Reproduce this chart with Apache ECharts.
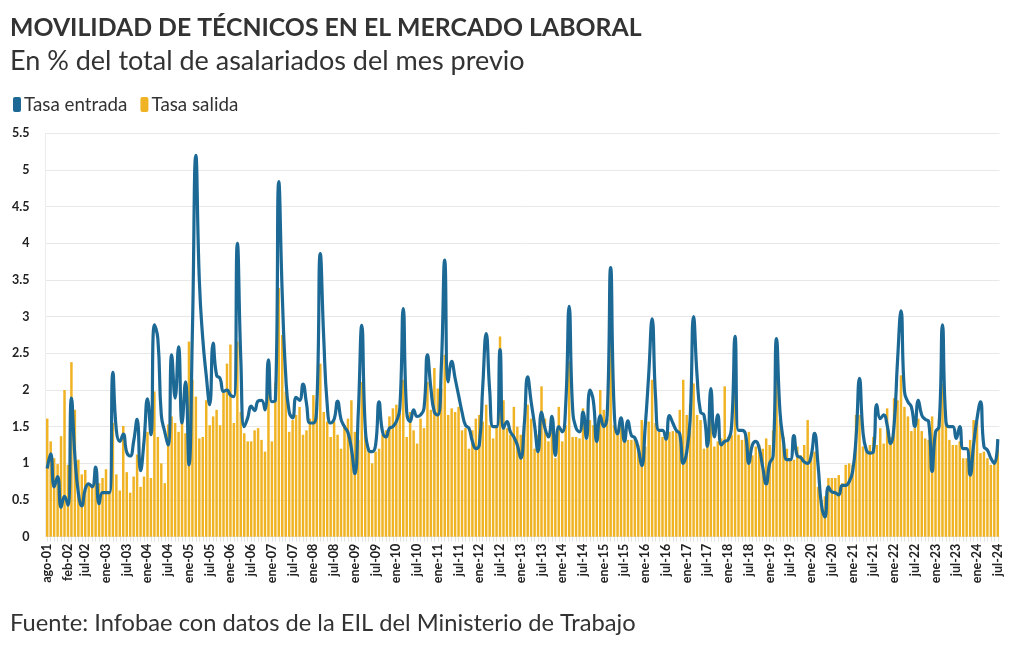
<!DOCTYPE html>
<html>
<head>
<meta charset="utf-8">
<script src="https://cdn.jsdelivr.net/npm/echarts@6/dist/echarts.min.js"></script>
<style>html,body{margin:0;padding:0;background:#fff}#c{width:1020px;height:650px}</style>
</head>
<body>
<div id="c"></div>
<script>
// Tasa entrada (line), monthly from ago-01 to jul-24
var entrada = [
0.93,1.13,0.68,0.82,0.40,0.55,0.43,1.89,1.10,0.60,
0.42,0.65,0.72,0.68,0.95,0.45,0.60,0.60,0.60,2.24,
1.45,1.30,1.40,1.15,1.10,1.30,1.60,0.90,1.30,1.88,
1.39,2.89,2.70,1.66,1.43,1.25,2.48,1.89,2.59,1.55,
2.11,0.98,2.80,5.20,3.50,2.70,2.20,1.80,2.64,2.20,
2.16,1.98,2.00,1.93,1.91,4.00,2.43,1.50,1.62,1.78,
1.72,1.85,1.86,1.73,2.41,1.84,1.86,4.84,3.30,2.20,
1.70,1.62,1.90,1.86,2.08,1.82,1.55,1.55,1.80,3.86,
2.70,1.80,1.55,1.60,1.85,1.60,1.50,1.42,1.20,0.86,
1.70,2.88,1.50,1.18,1.16,1.25,1.84,1.43,1.36,1.48,
1.50,1.57,1.75,3.11,1.70,1.57,1.73,1.64,1.66,1.75,
2.48,2.02,1.70,1.66,2.30,3.77,2.11,2.39,2.16,1.93,
1.70,1.52,1.48,1.30,1.20,1.25,2.05,2.77,2.00,1.50,
1.50,2.55,1.48,1.57,1.43,1.36,1.25,1.07,1.52,2.18,
1.84,1.52,1.16,1.70,1.48,1.36,1.64,1.11,1.50,1.43,
1.80,3.14,1.75,1.48,1.43,1.70,1.34,2.00,1.85,1.30,
1.65,1.50,1.66,3.67,1.75,1.40,1.62,1.30,1.58,1.38,
1.35,1.20,0.97,1.50,2.20,2.97,1.90,1.45,1.45,1.33,
1.65,1.55,1.45,1.40,1.00,1.15,1.60,3.00,2.20,1.70,
1.66,1.23,2.02,1.36,1.66,1.25,1.30,1.32,1.52,2.73,
1.45,1.45,1.40,1.00,1.25,1.30,1.20,0.95,0.72,1.00,
1.10,2.70,1.70,1.30,1.05,1.05,1.38,1.10,1.08,1.02,
1.00,1.10,1.41,0.98,0.43,0.27,0.68,0.61,0.60,0.57,
0.70,0.70,0.75,0.89,1.35,2.16,1.43,1.18,1.14,1.16,
1.80,1.61,1.66,1.52,1.27,1.52,2.40,3.08,1.98,1.84,
1.77,1.50,1.86,1.66,1.60,1.57,0.89,1.43,1.50,2.89,
1.57,1.50,1.50,1.34,1.50,1.20,1.20,0.84,1.25,1.61,
1.84,1.23,1.18,1.07,1.00,1.33
];
// Tasa salida (bars)
var salida = [
1.61,1.30,1.07,0.99,1.37,2.00,0.98,2.38,1.73,1.05,
0.85,0.91,0.72,0.70,0.75,0.73,0.80,0.92,0.61,1.55,
0.85,0.63,1.51,0.88,0.60,0.82,1.12,0.68,0.82,1.43,
0.80,1.98,1.36,1.00,0.73,1.53,1.64,1.55,1.43,1.86,
1.41,2.66,2.14,1.91,1.34,1.36,1.86,1.52,1.64,1.73,
1.52,2.00,2.36,2.62,1.55,2.66,1.70,1.41,1.30,1.30,
1.45,1.48,1.32,1.16,2.11,1.30,2.10,3.39,2.75,1.98,
1.43,1.59,1.66,1.77,1.39,1.45,1.61,1.93,1.84,2.36,
1.70,1.57,1.36,1.57,1.39,1.20,1.52,1.61,1.86,1.43,
1.32,2.11,1.39,1.18,1.00,1.16,1.20,1.39,1.45,1.64,
1.75,1.80,1.68,2.14,1.36,1.70,1.45,1.27,1.61,1.48,
2.11,1.73,2.30,2.02,2.02,2.48,1.66,1.75,1.70,1.77,
1.45,1.48,1.20,1.45,1.61,1.66,1.57,1.80,1.52,1.34,
1.52,2.73,1.86,1.48,1.39,1.77,1.50,1.39,1.50,1.80,
1.61,1.20,1.39,2.05,1.61,1.30,1.48,1.07,1.77,1.30,
1.52,2.39,1.36,1.36,1.34,1.75,1.32,1.59,1.52,1.34,
2.00,1.73,1.61,2.70,1.52,1.39,1.52,1.39,1.32,1.32,
1.34,1.25,1.59,1.23,1.57,2.14,1.55,1.43,1.36,1.41,
1.43,1.44,1.44,1.73,2.14,1.66,1.80,2.09,1.66,1.59,
1.20,1.23,1.61,1.23,1.30,1.34,2.05,1.36,1.39,2.00,
1.39,1.32,1.39,1.43,1.11,1.23,1.25,1.20,1.34,1.25,
1.45,2.23,1.61,1.36,1.20,1.05,1.05,1.23,1.11,1.25,
1.59,1.14,1.16,0.68,0.50,0.55,0.80,0.80,0.80,0.84,
0.73,0.98,1.00,0.98,1.66,1.66,1.23,1.18,1.25,1.36,
1.25,1.48,1.27,1.75,1.36,1.89,1.86,2.20,1.77,1.64,
1.44,1.48,1.61,1.44,1.34,1.32,1.64,1.41,1.61,2.09,
1.57,1.32,1.25,1.25,1.30,1.07,1.07,1.32,1.59,1.57,
1.14,1.16,1.07,0.98,1.02,1.20
];
// Tick labels shown on the x axis
var tickLabels = ["ago-01","feb-02","jul-02","ene-03","jul-03","ene-04","jul-04","ene-05","jul-05",
"ene-06","jul-06","ene-07","jul-07","ene-08","jul-08","ene-09","jul-09","ene-10","jul-10",
"ene-11","jul-11","ene-12","jul-12","ene-13","jul-13","ene-14","jul-14","ene-15","jul-15",
"ene-16","jul-16","ene-17","jul-17","ene-18","jul-18","ene-19","jul-19","ene-20","jul-20",
"ene-21","jul-21","ene-22","jul-22","ene-23","jul-23","ene-24","jul-24"];
var yTicks = [0,0.5,1,1.5,2,2.5,3,3.5,4,4.5,5,5.5];

// Month categories (ago-01 ... jul-24)
var monthNames = ['ene','feb','mar','abr','may','jun','jul','ago','sep','oct','nov','dic'];
var categories = [];
(function(){
  var m = 7, y = 2001;
  for (var k = 0; k < entrada.length; k++) {
    categories.push(monthNames[m] + '-' + String(y % 100).padStart(2,'0'));
    m++; if (m > 11) { m = 0; y++; }
  }
})();
var tickSet = {};
tickLabels.forEach(function(t){ tickSet[t] = true; });

var FONT = 'Lato, "Noto Sans", sans-serif';
var chart = echarts.init(document.getElementById('c'), null, {renderer: 'canvas'});
chart.setOption({
  backgroundColor: '#ffffff',
  animation: false,
  textStyle: { fontFamily: FONT },
  title: [
    { text: 'MOVILIDAD DE TÉCNICOS EN EL MERCADO LABORAL', left: 10, top: 16, padding: 0,
      textStyle: { fontFamily: FONT, fontSize: 24.8, fontWeight: 'bold', color: '#333333' } },
    { text: 'En % del total de asalariados del mes previo', left: 10, top: 48, padding: 0,
      textStyle: { fontFamily: FONT, fontSize: 27, fontWeight: 'normal', color: '#333333' } },
    { text: 'Fuente: Infobae con datos de la EIL del Ministerio de Trabajo', left: 10, top: 611, padding: 0,
      textStyle: { fontFamily: FONT, fontSize: 23.7, fontWeight: 'normal', color: '#333333' } }
  ],
  legend: {
    left: 8, top: 90, icon: 'roundRect', itemWidth: 8, itemHeight: 15, itemGap: 13,
    data: ['Tasa entrada', 'Tasa salida'],
    textStyle: { fontFamily: FONT, fontSize: 18.8, color: '#333333', padding: [0,0,0,-2] }
  },
  grid: { left: 45.5, right: 20.5, top: 133.3, bottom: 113.3, containLabel: false },
  xAxis: {
    type: 'category', data: categories, boundaryGap: true,
    axisLine: { show: false },
    axisTick: { show: true, interval: 0, alignWithLabel: true, length: 5, lineStyle: { color: '#e3e3e3' } },
    axisLabel: {
      interval: function(idx, val){ return !!tickSet[val]; },
      rotate: 90, margin: 7, fontFamily: FONT, fontSize: 12.5, fontWeight: 'bold', color: '#222222'
    },
    splitLine: { show: false }
  },
  yAxis: {
    type: 'value', min: yTicks[0], max: yTicks[yTicks.length-1], interval: 0.5,
    axisLine: { show: true, lineStyle: { color: '#ececec' } },
    axisTick: { show: false },
    axisLabel: { margin: 16, fontFamily: FONT, fontSize: 12.5, fontWeight: 'bold', color: '#222222' },
    splitLine: { show: true, lineStyle: { color: '#e8e8e8', width: 1 } }
  },
  series: [
    { name: 'Tasa salida', type: 'bar', data: salida, barCategoryGap: '28%',
      itemStyle: { color: '#f0b323' }, z: 2 },
    { name: 'Tasa entrada', type: 'line', data: entrada, smooth: 0.5, showSymbol: false, symbol: 'none',
      lineStyle: { color: '#1d6996', width: 3.2 }, itemStyle: { color: '#1d6996' }, z: 3 }
  ]
});
</script>
</body>
</html>
